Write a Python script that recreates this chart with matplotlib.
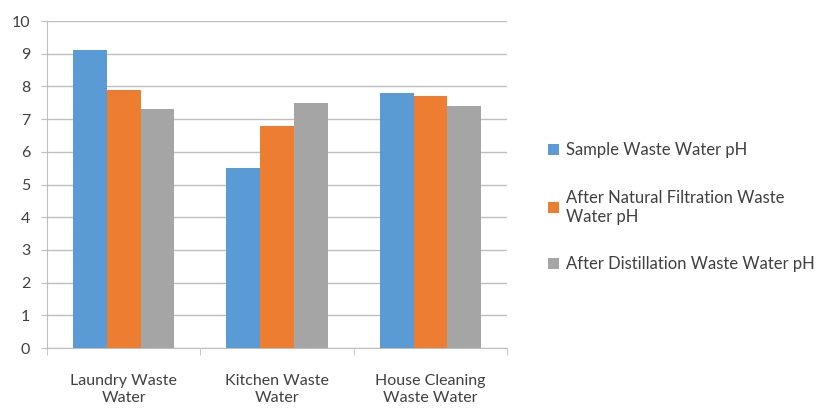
import numpy as np
import matplotlib
matplotlib.use("Agg")
import matplotlib.pyplot as plt
from matplotlib.patches import Patch

# data
categories = ["Laundry Waste\nWater", "Kitchen Waste\nWater", "House Cleaning\nWaste Water"]
series_names = ["Sample Waste Water pH",
                "After Natural Filtration Waste\nWater pH",
                "After Distillation Waste Water pH"]
sample_ph = [9.1, 5.5, 7.8]
natural_ph = [7.9, 6.8, 7.7]
distilled_ph = [7.3, 7.5, 7.4]

colors = ["#5B9BD5", "#ED7D31", "#A5A5A5"]
text_col = "#404040"

plt.rcParams['font.family'] = ['Lato', 'DejaVu Sans']

fig = plt.figure(figsize=(8.29, 4.08), dpi=100)
ax = fig.add_axes([0.0567, 0.147, 0.555, 0.8015])

x = np.arange(len(categories))
w = 0.22
for i, vals in enumerate([sample_ph, natural_ph, distilled_ph]):
    ax.bar(x + (i - 1) * w, vals, width=w, color=colors[i], zorder=3)

ax.set_xlim(-0.5, len(categories) - 0.5)
ax.set_ylim(0, 10)
ax.set_yticks(range(0, 11))
ax.tick_params(axis='y', labelsize=11.5, colors=text_col, length=4, color="#BFBFBF", pad=8)
ax.grid(axis='y', color="#BFBFBF", linewidth=1, zorder=0)

ax.set_xticks(x)
ax.set_xticklabels(categories, fontsize=11.5, color=text_col, linespacing=1.25)
ax.tick_params(axis='x', length=0, pad=19)
ax.set_xticks(np.arange(-0.5, len(categories)), minor=True)
ax.tick_params(axis='x', which='minor', length=5, color="#BFBFBF")

for s in ['top', 'right']:
    ax.spines[s].set_visible(False)
for s in ['left', 'bottom']:
    ax.spines[s].set_color("#BFBFBF")

handles = [Patch(facecolor=c) for c in colors]
fig.legend(handles, series_names, loc='upper left', bbox_to_anchor=(0.643, 0.688),
           frameon=False, fontsize=12, labelcolor=text_col, handlelength=0.65,
           handleheight=0.65, handletextpad=0.4, labelspacing=1.9)

fig.savefig("out.png", dpi=100)
